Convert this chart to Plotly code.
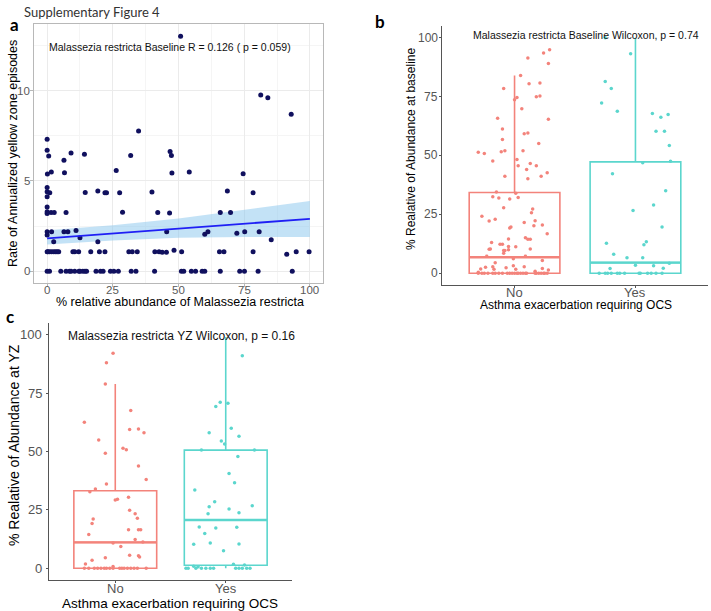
import plotly.graph_objects as go

# ---------------- panel a: scatter + lm fit ----------------
a_abund = [50.8, 81.3, 84.0, 92.9, 34.8, 0, 0, 0.6, 9.1, 6.4, 14.2, 31.8, 46.8, 47.3,
           26.3, 0.1, 1.6, 6.6, 47.5, 54.1, 74.6, 0, 0, 0, 1.0, 14.5, 19.3, 22.0, 22.6,
           27.6, 39.9, 68.6, 78.4, 0, 0, 0, 1.5, 2.7, 7.2, 28.7, 42.1, 46.6, 65.9, 69.8,
           0, 0, 1.7, 6.4, 7.9, 11.0, 12.5, 2.5, 19.3, 45.5, 60.0, 61.2, 72.2, 75.2,
           80.7, 85.3,
           0, 0.3, 0.9, 1.7, 2.5, 3.2, 3.8, 4.4, 9.8, 10.5, 12.0, 16.6, 19.9, 22.0, 31.1,
           32.4, 34.3, 41.0, 42.6, 43.8, 45.4, 48.3, 51.2, 65.6, 67.3, 78.4, 91.2, 94.8, 99.7,
           0, 0.9, 5.2, 7.2, 8.5, 9.1, 10.5, 12.1, 12.5, 13.6, 14.4, 15.0, 18.6, 20.3,
           21.3, 24.1, 25.4, 27.1, 32.0, 33.8, 40.9, 51.1, 52.0, 54.9, 56.5, 59.0, 60.0,
           65.9, 73.3, 75.1, 80.3, 93.3]
a_rate = [13.0, 9.75, 9.6, 8.69, 7.76, 7.3, 6.69, 6.38, 6.54, 6.14, 6.47, 6.4, 6.62, 6.4,
          5.58, 5.38, 5.49, 5.45, 5.43, 5.49, 5.4, 4.64, 4.4, 4.12, 4.34, 4.36, 4.44, 4.34, 4.34,
          4.34, 4.38, 4.44, 4.34, 3.55, 3.29, 3.2, 3.25, 3.25, 3.25, 3.27, 3.25, 3.22, 3.25, 3.25,
          2.18, 2.0, 2.18, 2.18, 2.18, 2.25, 1.85, 1.63, 1.63, 2.18, 2.05, 2.18, 2.1, 2.18,
          2.18, 1.74,
          1.08, 1.08, 1.08, 1.08, 1.08, 1.08, 1.08, 1.08, 1.08, 1.08, 1.08, 1.08, 1.08, 1.08, 1.08,
          1.08, 1.08, 1.08, 1.08, 1.05, 1.05, 1.16, 1.08, 1.08, 1.08, 1.08, 0.94, 1.08, 1.08,
          0, 0, 0, 0, 0, 0, 0, 0, 0, 0, 0, 0, 0, 0,
          0, 0, 0, 0, 0, 0, 0, 0, 0, 0, 0, 0, 0,
          0, 0, 0, 0, 0]
fit_x = [0, 25, 50, 75, 100]
fit_y = [1.82, 2.09, 2.36, 2.63, 2.90]
fit_lo = [1.48, 1.70, 1.85, 1.90, 1.89]
fit_hi = [2.27, 2.55, 2.92, 3.38, 3.88]
a_xticks = [0, 25, 50, 75, 100]
a_yticks = [0, 5, 10]

# ---------------- panel b: baseline abundance ----------------
groups = ["No", "Yes"]
pct_ticks = [0, 25, 50, 75, 100]
b_no = [94.9, 93.5, 89.1, 91.4, 84.0, 80.5, 80.8, 78.5, 74.9, 75.3, 74.6, 73.7, 69.9, 65.8,
        65.4, 61.3, 59.6, 59.2, 56.8, 55.1, 51.4, 50.8, 51.6, 52.0, 52.0, 47.7, 48.3, 46.6,
        45.6, 45.6, 44.1, 41.2, 41.2, 40.1, 42.7, 34.5, 34.0, 32.5, 31.9, 31.5, 32.2, 27.8,
        27.3, 25.7, 24.2, 22.9, 22.2, 21.5, 22.3, 20.2, 20.5, 19.2, 19.6, 13.0, 16.8, 14.4,
        14.4, 14.5, 15.1, 10.3, 10.2, 12.3, 12.3, 11.3, 9.6, 9.6, 8.5, 10.0, 11.2, 10.3, 7.2,
        7.2, 6.2, 5.4, 4.5, 2.8, 2.5, 3.2, 1.8, 1.7, 2.3, 1.7, 2.7, 2.0, 1.4, 0.8, 0.4,
        0, 0, 0, 0, 0, 0, 0, 0, 0, 0, 0, 0, 0, 0, 0, 0, 0, 0, 0, 0, 0, 0, 0, 0, 0]
b_no_jit = [.29, .24, .28, .11, .05, .12, .21, -.09, .18, .21, .02, 0, .06, -.14,
            .28, -.10, .11, .08, -.10, .20, -.30, -.25, -.11, -.08, .07, -.18, .02, .13,
            .03, .18, .10, -.08, .22, .11, .27, -.15, .01, -.18, -.13, -.04, .03, -.09,
            .15, .14, -.27, -.16, -.21, .08, .17, .16, .23, -.04, -.03, -.19, .27, .11,
            .13, -.05, .09, -.20, -.21, -.12, -.10, -.05, -.09, -.08, -.09, -.05, .01, .13, -.23,
            .09, -.01, .23, -.16, -.18, -.24, -.01, -.28, -.17, -.07, .01, .08, .23, .28, .17, -.30,
            -.30, -.27, -.25, -.22, -.18, -.16, -.13, -.10, -.06, -.04, -.02, 0, .02, .03,
            .05, .07, .09, .10, .17, .18, .20, .22, .24, .25, .27]
b_yes = [100, 93.2, 81.4, 78.5, 72.3, 68.8, 67.8, 66.2, 67.4, 60.3, 60.3, 54.2, 47.6, 46.9,
         42.2, 35.0, 29.0, 26.6, 19.6, 12.7, 13.4, 12.1, 8.1, 6.6, 6.6, 4.2, 3.4, 3.2, 2.0, 2.1,
         0, 0, 0, 0, 0, 0, 0, 0, 0, 0, 0, 0, 0]
b_yes_jit = [-.25, -.04, -.25, -.20, -.28, -.15, .14, .21, .27, .17, .24, .28, .29, .06,
             -.19, .25, .15, -.02, .22, -.24, .09, .07, -.18, -.07, .06, .28, 0, .15, -.21, .23,
             -.30, -.25, -.23, -.20, -.15, -.13, -.09, .03, .04, .10, .13, .17, .22]
# box stats: q1, median, q3, lower whisker, upper whisker
b_q1 = [0, 0]
b_med = [6.8, 4.5]
b_q3 = [34.3, 47.3]
b_lo = [0, 0]
b_hi = [84.0, 100]

# ---------------- panel c: YZ abundance ----------------
c_no = [92.1, 88.0, 78.9, 67.6, 62.5, 54.9, 59.6, 59.4, 58.0, 51.4, 50.8, 49.2, 43.8, 38.0,
        36.1, 33.9, 32.8, 29.6, 29.2, 30.4, 24.9, 23.4, 21.4, 21.1, 19.2, 14.5, 16.5, 16.5,
        16.5, 12.3, 11.3, 10.8, 9.3, 5.6, 5.4, 4.8, 4.5, 3.5, 1.8, 0.8,
        0, 0, 0, 0, 0, 0, 0, 0, 0, 0, 0, 0, 0, 0, 0, 0, 0]
c_no_jit = [-.02, -.08, -.09, .14, -.28, -.15, .21, .13, .26, .07, .10, -.09, .21, .28,
            -.08, -.18, -.23, .02, 0, .12, .13, .18, .20, -.20, -.21, -.24, .12, .21,
            .23, .18, .25, -.02, .05, .13, .21, .22, -.09, -.21, -.27, -.02,
            -.28, -.24, -.19, -.16, -.13, -.10, -.08, -.05, -.02, .04, .06, .08, .11, .14,
            .17, .20, .28]
c_yes = [91.0, 71.1, 69.3, 70.6, 59.9, 56.5, 58.0, 54.5, 53.2, 50.6, 50.6, 47.9, 40.6, 36.6,
         33.5, 26.3, 28.5, 25.4, 23.4, 23.8, 26.8, 17.7, 17.3, 17.6, 14.9, 10.3, 10.8, 10.4,
         7.5, 1.7, 1.4, 0.7, 0.9,
         0, 0, 0, 0, 0, 0, 0, 0, 0, 0, 0, 0]
c_yes_jit = [.15, -.05, -.09, .02, .05, .12, -.15, -.04, -.01, -.22, .26, .11, .03, .08,
             -.28, -.15, -.10, .03, -.16, .12, .24, -.24, -.09, .10, -.19, -.29, -.14, .12,
             -.02, .07, .17, -.25, -.29,
             -.36, -.34, -.27, -.22, -.18, -.14, -.11, .09, .12, .15, .19, .22]
c_q1 = [0, 1.3]
c_med = [11.1, 20.7]
c_q3 = [33.2, 50.6]
c_lo = [0, 0]
c_hi = [78.9, 99.0]

NO_COL = "#F3837B"
YES_COL = "#5BD6CD"
TICK_FONT = "Liberation Sans, Arial, sans-serif"

fig = go.Figure()

# --- panel a ---
fig.add_trace(go.Scatter(x=fit_x + fit_x[::-1], y=fit_hi + fit_lo[::-1], fill="toself", mode="lines",
                         fillcolor="rgba(135,198,237,0.5)", line=dict(width=0),
                         hoverinfo="skip", xaxis="x", yaxis="y"))
fig.add_trace(go.Scatter(x=a_abund, y=a_rate, mode="markers",
                         marker=dict(color="#10105E", size=5), xaxis="x", yaxis="y"))
fig.add_trace(go.Scatter(x=fit_x, y=fit_y, mode="lines",
                         line=dict(color="#1F1FF5", width=1.8), xaxis="x", yaxis="y"))


def add_box_panel(xa, ya, vals, jits, q1, med, q3, lo, hi):
    for i, (name, col) in enumerate(zip(groups, [NO_COL, YES_COL])):
        pos = i + 1
        fig.add_trace(go.Box(x=[pos], q1=[q1[i]], median=[med[i]], q3=[q3[i]],
                             lowerfence=[lo[i]], upperfence=[hi[i]], width=0.75,
                             fillcolor="rgba(0,0,0,0)", line=dict(color=col, width=1.6),
                             whiskerwidth=0, boxpoints=False, xaxis=xa, yaxis=ya))
        # thicker median bar like ggplot
        fig.add_trace(go.Scatter(x=[pos - 0.375, pos + 0.375], y=[med[i], med[i]], mode="lines",
                                 line=dict(color=col, width=2.4), xaxis=xa, yaxis=ya))
        fig.add_trace(go.Scatter(x=[pos + j for j in jits[i]], y=vals[i], mode="markers",
                                 marker=dict(color=col, size=3.5), xaxis=xa, yaxis=ya))


add_box_panel("x2", "y2", [b_no, b_yes], [b_no_jit, b_yes_jit], b_q1, b_med, b_q3, b_lo, b_hi)
add_box_panel("x3", "y3", [c_no, c_yes], [c_no_jit, c_yes_jit], c_q1, c_med, c_q3, c_lo, c_hi)

W, H = 711, 611


def dx(p0, p1):
    return [p0 / W, p1 / W]


def dy(p0, p1):
    return [1 - p1 / H, 1 - p0 / H]


# tick labels are drawn as annotations below, so axes only carry lines/ticks/grid
grid_a = dict(showgrid=True, gridcolor="#EBEBEB", gridwidth=1, zeroline=False, automargin=False,
              showline=True, mirror=True, linecolor="#B8B8B8", linewidth=1,
              ticks="outside", ticklen=3, tickcolor="#B8B8B8", showticklabels=False)
classic = dict(showgrid=False, zeroline=False, showline=True, linecolor="#555555", linewidth=1,
               ticks="outside", ticklen=2, tickcolor="#555555", automargin=False,
               showticklabels=False)

fig.update_layout(
    width=W, height=H, margin=dict(l=0, r=0, t=0, b=0),
    paper_bgcolor="white", plot_bgcolor="white", showlegend=False,
    font=dict(family=TICK_FONT, color="black"),
    xaxis=dict(domain=dx(34, 323), range=[-5, 105], tickvals=a_xticks,
               minor=dict(tickvals=[12.5, 37.5, 62.5, 87.5], showgrid=True, gridcolor="#F5F5F5", ticks=""),
               **grid_a),
    yaxis=dict(domain=dy(24, 283), range=[-0.65, 13.68], tickvals=a_yticks,
               minor=dict(tickvals=[2.5, 7.5, 12.5], showgrid=True, gridcolor="#F5F5F5", ticks=""),
               **grid_a),
    xaxis2=dict(domain=dx(442, 708), range=[0.4, 2.6], tickvals=[1, 2], anchor="y2", **classic),
    yaxis2=dict(domain=dy(26, 285), range=[-5, 105], tickvals=pct_ticks, anchor="x2", **classic),
    xaxis3=dict(domain=dx(49, 292), range=[0.4, 2.6], tickvals=[1, 2], anchor="y3", **classic),
    yaxis3=dict(domain=dy(323, 580), range=[-5, 105], tickvals=pct_ticks, anchor="x3", **classic),
)


def x_labels(xref, vals, texts, py, size, color):
    for v, t in zip(vals, texts):
        fig.add_annotation(x=v, y=1 - py / H, xref=xref, yref="paper", xanchor="center",
                           yanchor="middle", showarrow=False, text=t,
                           font=dict(size=size, color=color))


def y_labels(yref, vals, px, size, color):
    for v in vals:
        fig.add_annotation(x=px / W, y=v, xref="paper", yref=yref, xanchor="right",
                           yanchor="middle", showarrow=False, text=str(v),
                           font=dict(size=size, color=color))


x_labels("x", a_xticks, [str(v) for v in a_xticks], 290, 11.5, "#5A5A5A")
y_labels("y", a_yticks, 32, 11.5, "#5A5A5A")
x_labels("x2", [1, 2], groups, 292, 13, "#555555")
y_labels("y2", pct_ticks, 440, 12, "#555555")
x_labels("x3", [1, 2], groups, 588, 13, "#555555")
y_labels("y3", pct_ticks, 44, 13, "#555555")

# axis titles, placed where the reference has them
for txt, px, py, size, ang in [
    ("% relative abundance of Malassezia restricta", 180, 302, 12.5, 0),
    ("Rate of Annualized yellow zone episodes", 13, 154, 12.5, -90),
    ("Asthma exacerbation requiring OCS", 576, 305, 12, 0),
    ("% Realative of Abundance at baseline", 411, 149, 12, -90),
    ("Asthma exacerbation requiring OCS", 170, 603, 13.5, 0),
    ("% Realative of Abundance at YZ", 14, 445, 14, -90),
]:
    fig.add_annotation(x=px / W, y=1 - py / H, xref="paper", yref="paper", xanchor="center",
                       yanchor="middle", showarrow=False, text=txt, textangle=ang,
                       font=dict(size=size, color="black"))

fig.add_annotation(x=0, y=12.4, xref="x", yref="y", xanchor="left", showarrow=False,
                   text="Malassezia restricta Baseline R = 0.126 ( p = 0.059)",
                   font=dict(size=10.5, color="#111111"))
fig.add_annotation(x=1.59, y=101, xref="x2", yref="y2", showarrow=False,
                   text="Malassezia restricta Baseline Wilcoxon, p = 0.74",
                   font=dict(size=10.5, color="#111111"))
fig.add_annotation(x=1.6, y=99.3, xref="x3", yref="y3", showarrow=False,
                   text="Malassezia restricta YZ Wilcoxon, p = 0.16",
                   font=dict(size=12, color="#111111"))

label_font = "Lato, Open Sans, sans-serif"
fig.add_annotation(x=22 / W, y=1 - 2 / H, xref="paper", yref="paper", xanchor="left", yanchor="top",
                   showarrow=False, text="Supplementary Figure 4",
                   font=dict(family=label_font, size=13, color="#333333"))
for txt, px, py in [("a", 8, 24), ("b", 373, 22), ("c", 4, 316)]:
    fig.add_annotation(x=px / W, y=1 - py / H, xref="paper", yref="paper", xanchor="left",
                       yanchor="middle", showarrow=False, text="<b>%s</b>" % txt,
                       font=dict(family=label_font, size=17, color="black"))

# drop the default 8px page margin so the figure sits at the window's corner
fig.write_html("out.html", config={"displayModeBar": False},
               post_script="document.body.style.margin='0';")
